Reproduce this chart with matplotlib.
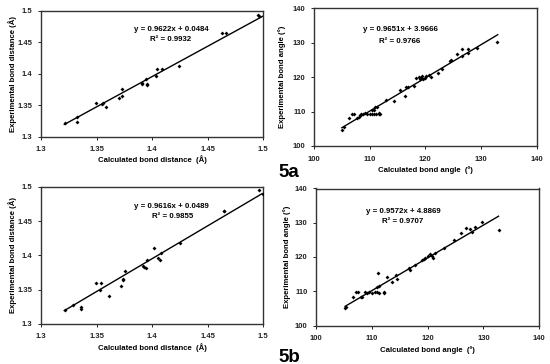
import matplotlib
matplotlib.use("Agg")
import matplotlib.pyplot as plt
from matplotlib.ticker import FuncFormatter

plt.rcParams['font.family'] = ['Liberation Sans', 'DejaVu Sans']

# 5a - bond distances
dist_calc_a = [1.3216, 1.3321, 1.3327, 1.3495, 1.3549, 1.3555, 1.3582, 1.3702, 1.3732, 1.3732,
               1.3906, 1.3910, 1.3945, 1.3954, 1.3958, 1.4035, 1.4044, 1.4086, 1.4244,
               1.4628, 1.4664, 1.4952, 1.4964]
dist_exp_a = [1.3213, 1.3229, 1.3307, 1.3540, 1.3524, 1.3540, 1.3476, 1.3610, 1.3757, 1.3646,
              1.3848, 1.3835, 1.3910, 1.3837, 1.3825, 1.3968, 1.4070, 1.4070, 1.4117,
              1.4651, 1.4651, 1.4932, 1.4916]

# 5a - bond angles
ang_calc_a = [105.0, 105.3, 106.3, 106.9, 107.1, 107.7, 108.0, 108.5, 108.3, 108.8, 109.2, 109.6,
              110.0, 110.4, 110.8, 111.2, 111.6, 111.9, 110.4, 110.7, 111.0, 111.3, 111.7, 113.0,
              114.3, 115.4, 116.3, 116.6, 116.9, 118.0, 118.4, 118.8, 119.0, 119.2, 119.4, 119.6,
              119.9, 120.2, 120.7, 121.1, 122.2, 123.0, 124.4, 124.6, 125.6, 126.5, 126.6, 127.6,
              127.7, 129.2, 132.8]
ang_exp_a = [104.7, 105.6, 108.2, 109.3, 109.3, 108.0, 108.3, 109.3, 109.0, 109.3, 109.5, 109.2,
             109.4, 109.3, 109.2, 109.3, 109.3, 109.3, 110.4, 110.5, 111.2, 111.4, 109.5, 113.4,
             113.1, 116.3, 114.5, 117.0, 117.2, 117.4, 119.7, 120.0, 119.5, 119.8, 120.2, 119.6,
             119.8, 120.3, 120.7, 120.0, 121.1, 122.3, 124.8, 125.0, 126.7, 128.1, 126.1, 128.1,
             126.9, 128.4, 130.3]

# 5b - bond distances
dist_calc_b = [1.3216, 1.3285, 1.3357, 1.3357, 1.3498, 1.3537, 1.3530, 1.3615, 1.3723, 1.3735,
               1.3735, 1.3756, 1.3915, 1.3930, 1.3942, 1.3954, 1.4019, 1.4053, 1.4073, 1.4082,
               1.4251, 1.4646, 1.4650, 1.4964, 1.5000]
dist_exp_b = [1.3195, 1.3268, 1.3250, 1.3220, 1.3594, 1.3594, 1.3488, 1.3404, 1.3546, 1.3649,
              1.3640, 1.3766, 1.3846, 1.3826, 1.3812, 1.3936, 1.4112, 1.3956, 1.3927, 1.4038,
              1.4180, 1.4649, 1.4645, 1.4951, 1.4902]

# 5b - bond angles
ang_calc_b = [105.2, 105.3, 106.7, 107.2, 107.5, 108.1, 108.3, 108.7, 109.1, 109.5, 110.0, 110.6,
              110.9, 111.2, 111.1, 112.1, 112.2, 110.9, 111.3, 112.8, 113.6, 114.5, 114.3, 116.6,
              116.9, 117.8, 119.0, 119.3, 119.6, 120.1, 121.0, 120.7, 121.3, 120.4, 122.9, 124.8,
              126.0, 126.8, 127.6, 127.9, 128.4, 129.8, 132.7]
ang_exp_b = [105.0, 105.5, 108.2, 109.7, 109.7, 108.3, 108.4, 109.8, 109.6, 109.7, 109.6, 109.7,
             109.9, 109.4, 115.2, 109.6, 109.9, 111.1, 111.4, 114.3, 112.6, 113.6, 114.8, 116.7,
             116.2, 117.7, 119.1, 119.4, 119.6, 120.4, 119.8, 120.4, 121.3, 120.9, 122.5, 125.0,
             126.9, 128.6, 128.3, 127.4, 128.9, 130.1, 127.9]

fig = plt.figure(figsize=(5.5, 3.64), dpi=100)
W, H = 550, 364


def box(l, t, r, b):
    return [l / W, 1 - b / H, (r - l) / W, (b - t) / H]


fmt = FuncFormatter(lambda v, p: f"{v:g}")


def panel(px, xs, ys, m, c, lim, ticks, xlab, ylab, eq_xy, r2, fit_x, xlab_y, ylab_x):
    l, t, r, b = px
    ax = fig.add_axes(box(l, t, r, b))
    ax.scatter(xs, ys, s=4, marker='D', color='black', linewidths=0, zorder=3)
    ax.plot(fit_x, [m * x + c for x in fit_x], color='black', lw=1.0)
    ax.set_xlim(lim)
    ax.set_ylim(lim)
    ax.set_xticks(ticks)
    ax.set_yticks(ticks)
    ax.xaxis.set_major_formatter(fmt)
    ax.yaxis.set_major_formatter(fmt)
    ax.tick_params(labelsize=5.5, length=2, width=0.7, direction='out', colors='#222222')
    ax.tick_params(axis='x', pad=5)
    ax.tick_params(axis='y', pad=4)
    for lab in ax.get_xticklabels() + ax.get_yticklabels():
        lab.set_fontweight('bold')
    for s in ax.spines.values():
        s.set_color('#333333')
        s.set_linewidth(1.0)
    ax.set_xlabel(xlab, fontsize=5.6, fontweight='bold', va='center')
    ax.set_ylabel(ylab, fontsize=5.6, fontweight='bold', va='center')
    ax.xaxis.set_label_coords(0.5, -(xlab_y - b) / (b - t))
    ax.yaxis.set_label_coords(-(l - ylab_x) / (r - l), 0.5)
    ax.text(eq_xy[0], eq_xy[1], f"y = {m}x + {c}", fontsize=5.7, fontweight='bold', ha='center', va='center')
    ax.text(eq_xy[2], eq_xy[3], f"R² = {r2}", fontsize=5.7, fontweight='bold', ha='center', va='center')
    return ax


dist_ticks = [1.3, 1.35, 1.4, 1.45, 1.5]
ang_ticks = [100, 110, 120, 130, 140]

panel((41, 10.7, 263.3, 136.7), dist_calc_a, dist_exp_a, 0.9622, 0.0484, (1.3, 1.5), dist_ticks,
      "Calculated bond distance  (Å)", "Experimental bond distance (Å)",
      (1.4176, 1.4705, 1.417, 1.4546), 0.9932, [1.321, 1.5], 160, 12.5)
panel((314, 8.3, 536.7, 146), ang_calc_a, ang_exp_a, 0.9651, 3.9666, (100, 140), ang_ticks,
      "Calculated bond angle  (º)", "Experimental bond angle (°)",
      (115.45, 133.7, 115.3, 130.3), 0.9766, [105.0, 133.0], 170, 282.5)
panel((41, 187, 263.3, 323.7), dist_calc_b, dist_exp_b, 0.9616, 0.0489, (1.3, 1.5), dist_ticks,
      "Calculated bond distance  (Å)", "Experimental bond distance (Å)",
      (1.4176, 1.4722, 1.418, 1.4575), 0.9855, [1.321, 1.499], 348, 12.5)
panel((316, 188.5, 539.3, 325.5), ang_calc_b, ang_exp_b, 0.9572, 4.8869, (100, 140), ang_ticks,
      "Calculated bond angle  (º)", "Experimental bond angle (°)",
      (115.67, 133.4, 115.5, 130.5), 0.9707, [105.2, 132.7], 350, 287.5)

fig.text(278 / W, 1 - 176.5 / H, "5a", fontsize=13.5, fontweight='bold', va='baseline')
fig.text(278 / W, 1 - 361.5 / H, "5b", fontsize=13.5, fontweight='bold', va='baseline')

fig.savefig("out.png", dpi=100)
